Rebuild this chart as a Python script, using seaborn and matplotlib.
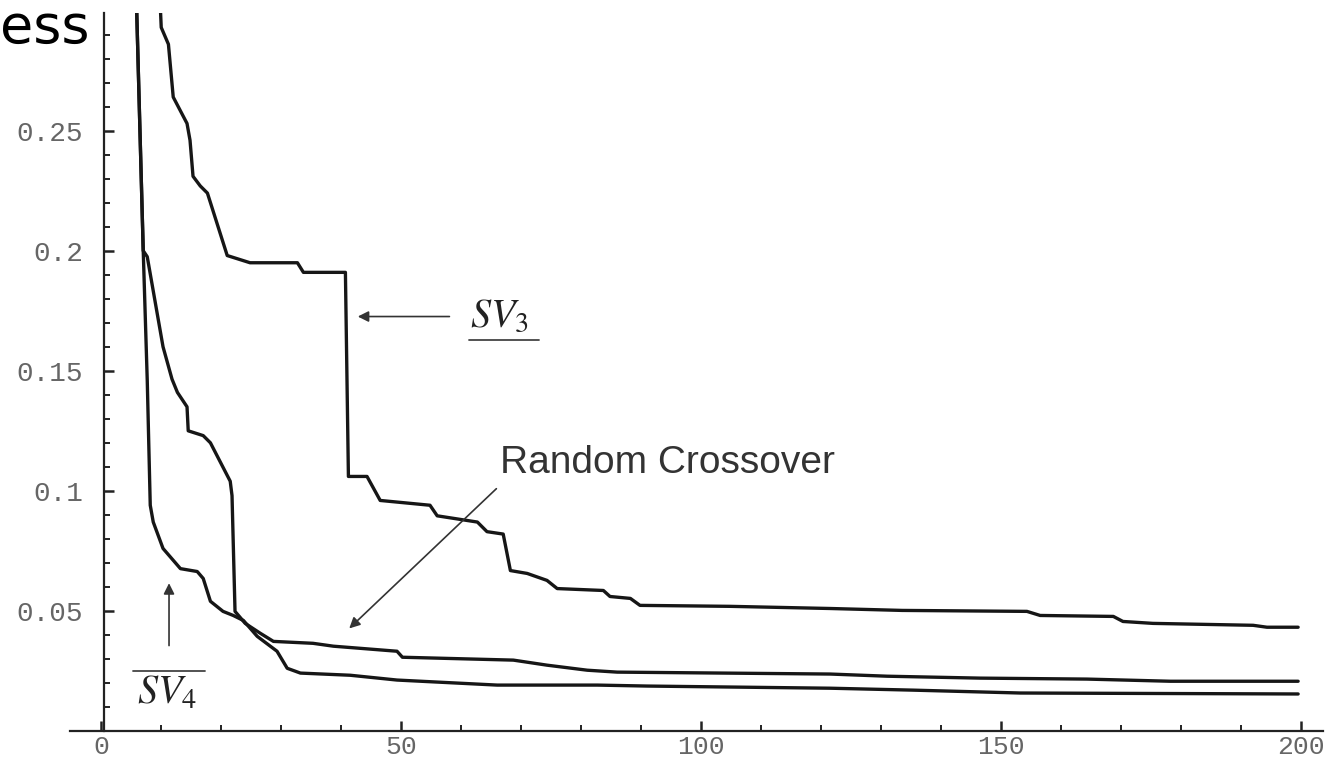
import numpy as np
import pandas as pd
import matplotlib
matplotlib.use('Agg')
import matplotlib.pyplot as plt
import seaborn as sns

# --- data (generation, best fitness) ---
sv3_gen = [9.7, 10.0, 11.2, 12.0, 14.3, 14.8, 15.3, 16.5, 17.7, 21.0, 24.8, 32.7, 33.7,
           40.7, 41.2, 44.3, 46.5, 54.8, 56.0, 62.7, 64.3, 67.0, 68.2, 71.0, 74.3, 76.0,
           83.7, 84.8, 88.2, 89.8, 104.8, 121.5, 133.5, 154.3, 156.5, 168.7, 170.3,
           175.3, 192.0, 194.3, 199.5]
sv3_fit = [0.31, 0.293, 0.286, 0.264, 0.253, 0.246, 0.231, 0.227, 0.224, 0.198, 0.195,
           0.195, 0.191, 0.191, 0.106, 0.106, 0.096, 0.094, 0.0896, 0.087, 0.083, 0.082,
           0.0668, 0.0656, 0.0627, 0.0593, 0.0585, 0.056, 0.0552, 0.0523, 0.0519, 0.051,
           0.0502, 0.0498, 0.0481, 0.0477, 0.0456, 0.0448, 0.044, 0.0432, 0.0432]

sv4_gen = [5.8, 7.0, 7.67, 8.17, 8.67, 10.3, 13.2, 16.0, 17.0, 18.2, 20.3, 22.0, 23.7,
           26.0, 29.3, 31.0, 33.2, 41.5, 49.3, 66.0, 82.7, 91.0, 121.5, 135.3, 153.2, 199.5]
sv4_fit = [0.31, 0.200, 0.146, 0.094, 0.087, 0.076, 0.0676, 0.0664, 0.0635, 0.054,
           0.0498, 0.0481, 0.046, 0.0394, 0.0332, 0.0261, 0.0241, 0.0232, 0.0212, 0.0191,
           0.0191, 0.0187, 0.0178, 0.017, 0.0158, 0.0154]

rc_gen = [5.8, 7.0, 7.67, 10.3, 11.8, 12.7, 14.3, 14.5, 17.0, 18.2, 21.5, 21.8, 22.3,
          24.0, 26.5, 28.7, 35.3, 38.7, 49.3, 50.2, 68.7, 74.3, 81.0, 86.0, 121.5, 131.0,
          146.5, 164.3, 178.2, 199.5]
rc_fit = [0.31, 0.200, 0.1975, 0.160, 0.1465, 0.141, 0.135, 0.125, 0.123, 0.120, 0.104,
          0.098, 0.0498, 0.0448, 0.0407, 0.0373, 0.0365, 0.0353, 0.0332, 0.0307, 0.0295,
          0.0274, 0.0253, 0.0245, 0.0237, 0.0228, 0.022, 0.0216, 0.0207, 0.0207]

x_ticks = [0, 50, 100, 150, 200]
y_ticks = [0.05, 0.1, 0.15, 0.2, 0.25]
y_labels = ['0.05', '0.1', '0.15', '0.2', '0.25']

sns.set_style('white')
plt.rcParams['mathtext.fontset'] = 'stix'

fig = plt.figure(figsize=(13.34, 7.67), dpi=100)
ax = fig.add_axes([0.0525, 0.0470, 0.9395, 0.9360])

line_kw = dict(color='#161616', linewidth=2.4, estimator=None, sort=False, ax=ax)
sns.lineplot(x=sv3_gen, y=sv3_fit, **line_kw)
sns.lineplot(x=sv4_gen, y=sv4_fit, **line_kw)
sns.lineplot(x=rc_gen, y=rc_fit, **line_kw)

ax.set_xlim(-5.2, 203.7)
ax.set_ylim(0, 0.299)

for s in ['top', 'right']:
    ax.spines[s].set_visible(False)
ax.spines['left'].set_position(('data', 0.4))
for s in ['left', 'bottom']:
    ax.spines[s].set_color('#222222')
    ax.spines[s].set_linewidth(1.6)

ax.set_xticks(x_ticks)
ax.set_xticklabels([str(v) for v in x_ticks])
ax.set_yticks(y_ticks)
ax.set_yticklabels(y_labels)
ax.set_xticks(np.arange(0, 201, 10), minor=True)
ax.set_yticks(np.arange(0.01, 0.3, 0.01), minor=True)

for lab in ax.get_yticklabels():
    lab.set_fontfamily('Liberation Mono')
    lab.set_fontsize(20)
    lab.set_color('#666666')
for lab in ax.get_xticklabels():
    lab.set_fontfamily('Liberation Mono')
    lab.set_fontsize(19)
    lab.set_color('#666666')
ax.tick_params(which='both', left=True, bottom=True, top=False, right=False)
ax.tick_params(which='major', direction='in', length=7, width=1.8, color='#222222')
ax.tick_params(which='minor', direction='in', length=4, width=1.4, color='#222222')
ax.tick_params(axis='y', which='major', pad=15)
ax.tick_params(axis='x', which='major', pad=3)
ax.grid(False)

# annotations
arrow = dict(arrowstyle='-|>', color='#333333', lw=1.2, mutation_scale=16)
ax.annotate('', xy=(42.3, 0.1726), xytext=(58.5, 0.1726), arrowprops=arrow)
ax.text(61.5, 0.173, '$SV_3$', fontsize=29, va='center', ha='left', color='#222222')
ax.plot([61.3, 73.0], [0.163, 0.163], color='#444444', lw=1.3)

ax.annotate('', xy=(11.3, 0.0627), xytext=(11.3, 0.0344), arrowprops=arrow)
ax.text(10.9, 0.0158, '$SV_4$', fontsize=29, va='center', ha='center', color='#222222')
ax.plot([5.3, 17.3], [0.0249, 0.0249], color='#444444', lw=1.3)

ax.annotate('', xy=(41.0, 0.0419), xytext=(66.2, 0.1017), arrowprops=arrow)
ax.text(66.5, 0.1116, 'Random Crossover', fontsize=28, va='center', ha='left',
        color='#333333', family='Liberation Sans')

fig.text(0.0, 1 - 43 / 767, 'ess', fontsize=39, ha='left', va='baseline',
         color='black', family='DejaVu Sans')

fig.savefig('out.png', dpi=100)
